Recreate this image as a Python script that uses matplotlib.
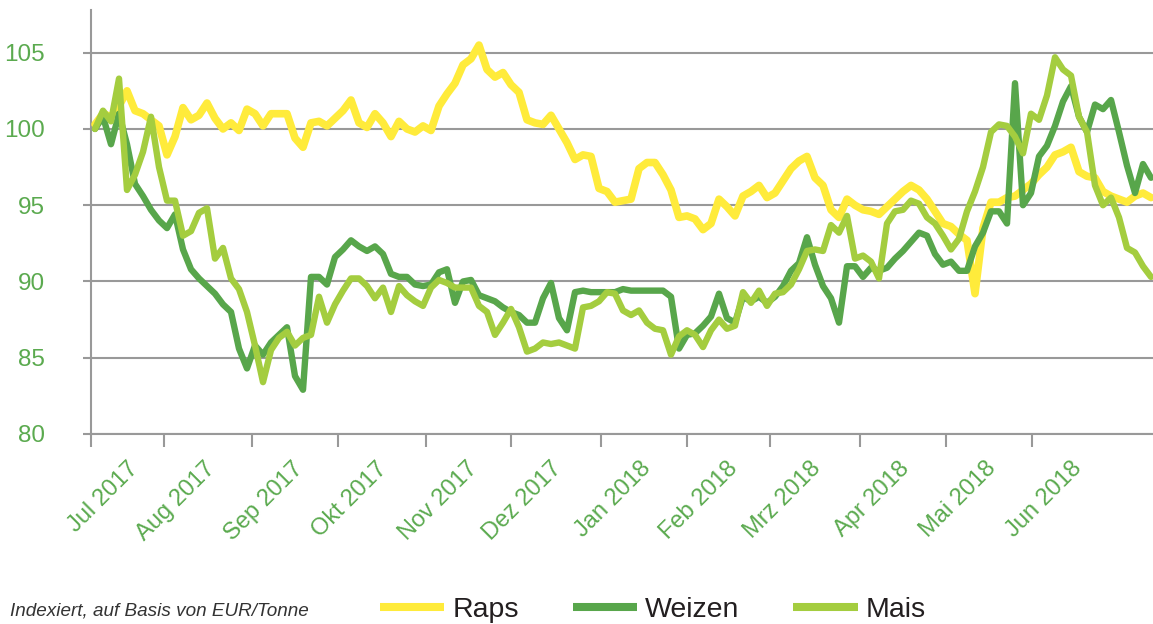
import numpy as np
import matplotlib
matplotlib.use('Agg')
import matplotlib.pyplot as plt
from matplotlib.transforms import ScaledTranslation

#---
#       DATA (index values, one sample every ~2 trading days, from Jul 2017)
#---
raps = [100.3, 101.0, 100.8, 101.5, 102.5, 101.2, 101.0, 100.6, 100.2, 98.3, 99.5,
        101.4, 100.6, 100.9, 101.7, 100.7, 100.0, 100.4, 99.9, 101.3, 101.0, 100.2,
        101.0, 101.0, 101.0, 99.4, 98.8, 100.4, 100.5, 100.2, 100.7, 101.2, 101.9,
        100.4, 100.1, 101.0, 100.4, 99.5, 100.5, 100.0, 99.8, 100.2, 99.9, 101.5,
        102.3, 103.0, 104.2, 104.6, 105.5, 103.9, 103.4, 103.7, 102.9, 102.4, 100.6,
        100.4, 100.3, 100.9, 100.0, 99.1, 98.0, 98.3, 98.2, 96.1, 95.9, 95.2,
        95.3, 95.4, 97.4, 97.8, 97.8, 97.0, 96.0, 94.2, 94.3, 94.1, 93.4,
        93.8, 95.4, 94.9, 94.3, 95.6, 95.9, 96.3, 95.5, 95.8, 96.6, 97.4,
        97.9, 98.2, 96.8, 96.3, 94.7, 94.2, 95.4, 95.0, 94.7, 94.6, 94.4,
        94.9, 95.4, 95.9, 96.3, 96.0, 95.4, 94.6, 93.8, 93.6, 93.1, 92.7,
        89.2, 93.5, 95.2, 95.2, 95.5, 95.6, 96.0, 96.4, 97.0, 97.5, 98.3, 98.5,
        98.8, 97.2, 96.9, 96.8, 95.9, 95.6, 95.4, 95.2, 95.6, 95.8, 95.5]

weizen = [100.0, 100.8, 99.0, 101.0, 99.0, 96.4, 95.6, 94.7, 94.0, 93.5, 94.4,
          92.1, 90.8, 90.2, 89.7, 89.2, 88.5, 88.0, 85.6, 84.3, 85.8, 85.2,
          86.0, 86.5, 87.0, 83.8, 82.9, 90.3, 90.3, 89.8, 91.6, 92.1, 92.7,
          92.3, 92.0, 92.3, 91.8, 90.5, 90.3, 90.3, 89.8, 89.7, 89.8, 90.6,
          90.8, 88.6, 90.0, 90.1, 89.1, 88.9, 88.7, 88.3, 88.0, 87.8, 87.3,
          87.3, 88.9, 89.9, 87.6, 86.8, 89.3, 89.4, 89.3, 89.3, 89.3, 89.3,
          89.5, 89.4, 89.4, 89.4, 89.4, 89.4, 89.0, 85.6, 86.5, 86.6, 87.1,
          87.7, 89.2, 87.6, 87.3, 89.0, 88.7, 89.0, 88.6, 89.0, 89.7, 90.7,
          91.2, 92.9, 91.1, 89.7, 88.9, 87.3, 91.0, 91.0, 90.3, 90.9, 90.7,
          90.9, 91.5, 92.0, 92.6, 93.2, 93.0, 91.8, 91.1, 91.3, 90.7, 90.7,
          92.3, 93.2, 94.6, 94.6, 93.8, 103.0, 95.0, 95.8, 98.2, 98.9, 100.2, 101.8,
          102.8, 100.8, 99.8, 101.6, 101.3, 101.9, 99.8, 97.6, 95.8, 97.7, 96.8]

mais = [100.0, 101.2, 100.5, 103.3, 96.0, 97.0, 98.5, 100.8, 97.5, 95.3, 95.3,
        93.0, 93.3, 94.5, 94.8, 91.5, 92.2, 90.2, 89.5, 88.0, 85.8, 83.4,
        85.5, 86.3, 86.7, 85.8, 86.3, 86.5, 89.0, 87.3, 88.5, 89.4, 90.2,
        90.2, 89.7, 88.9, 89.6, 88.0, 89.7, 89.1, 88.7, 88.4, 89.6, 90.1,
        89.9, 89.6, 89.6, 89.6, 88.4, 88.0, 86.5, 87.3, 88.2, 87.0, 85.4,
        85.6, 86.0, 85.9, 86.0, 85.8, 85.6, 88.3, 88.4, 88.7, 89.3, 89.2,
        88.1, 87.8, 88.1, 87.3, 86.9, 86.8, 85.2, 86.4, 86.8, 86.5, 85.7,
        86.8, 87.5, 86.9, 87.1, 89.3, 88.6, 89.4, 88.4, 89.2, 89.3, 89.8,
        90.8, 92.0, 92.1, 92.0, 93.7, 93.2, 94.3, 91.5, 91.7, 91.3, 90.2,
        93.8, 94.6, 94.7, 95.3, 95.1, 94.2, 93.8, 93.0, 92.1, 92.8, 94.6,
        95.9, 97.5, 99.8, 100.3, 100.2, 99.5, 98.4, 101.0, 100.6, 102.2, 104.7, 103.9,
        103.5, 100.8, 99.8, 96.3, 95.0, 95.5, 94.2, 92.2, 91.9, 91.0, 90.3]

month_labels = ['Jul 2017', 'Aug 2017', 'Sep 2017', 'Okt 2017', 'Nov 2017', 'Dez 2017',
                'Jan 2018', 'Feb 2018', 'Mrz 2018', 'Apr 2018', 'Mai 2018', 'Jun 2018']
month_pos = [-0.5, 8.6, 19.6, 30.4, 41.4, 52.0, 63.25, 74.0, 84.4, 95.6, 106.4, 117.1]

series_names = ['Raps', 'Weizen', 'Mais']

#---
#       PLOT
#---
c_raps = '#FFEB3B'
c_weizen = '#58A64B'
c_mais = '#A4CD3F'
c_grid = '#999999'
c_txt = '#5BAA4F'

x = np.arange(len(raps))

fig = plt.figure(figsize=(11.53, 6.24), dpi=100)
fig.set_facecolor('white')
ax = fig.add_axes([91/1153, 1-434/624, 1-91/1153, (434-10)/624])

l1, = ax.plot(x, raps, color=c_raps, lw=5.5, solid_joinstyle='round', solid_capstyle='round', zorder=3)
l2, = ax.plot(x, weizen, color=c_weizen, lw=4.6, solid_joinstyle='round', solid_capstyle='round', zorder=4)
l3, = ax.plot(x, mais, color=c_mais, lw=4.6, solid_joinstyle='round', solid_capstyle='round', zorder=5)

ax.set_xlim(-0.5, 132.25)
ax.set_ylim(80, 107.8)
ax.set_yticks(range(80, 106, 5))
ax.yaxis.grid(True, color=c_grid, lw=1.5)
ax.set_axisbelow(True)
for s in ['top', 'right']:
    ax.spines[s].set_visible(False)
for s in ['left', 'bottom']:
    ax.spines[s].set_color(c_grid)
    ax.spines[s].set_linewidth(1.5)

ax.tick_params(axis='y', length=6, width=1.5, color=c_grid, pad=27,
               labelsize=17.5, labelcolor=c_txt)
ax.tick_params(axis='x', length=9, width=1.5, color=c_grid, pad=8,
               labelsize=17, labelcolor=c_txt)
for lab in ax.get_yticklabels():
    lab.set_family('Liberation Sans')

ax.set_xticks(month_pos)
ax.set_xticklabels(month_labels, rotation=45, ha='center', family='Liberation Sans')
off = ScaledTranslation(12/100, 0, fig.dpi_scale_trans)
for lab in ax.get_xticklabels():
    lab.set_transform(lab.get_transform() + off)

leg = fig.legend([l1, l2, l3], series_names, loc='center',
                 bbox_to_anchor=(653/1153, 1-610/624), ncol=3, frameon=False,
                 prop={'family': 'Liberation Sans', 'size': 20.5},
                 handlelength=2.25, handletextpad=0.28, columnspacing=1.9, borderpad=0)
for h in leg.get_lines():
    h.set_linewidth(5.8)
    h.set_solid_capstyle('butt')
for t in leg.get_texts():
    t.set_color('#231F20')

fig.text(10/1153, 1-611/624, 'Indexiert, auf Basis von EUR/Tonne', style='italic',
         family='Liberation Sans', fontsize=13.6, va='center', color='#333333')

fig.savefig('out.png', dpi=100)
